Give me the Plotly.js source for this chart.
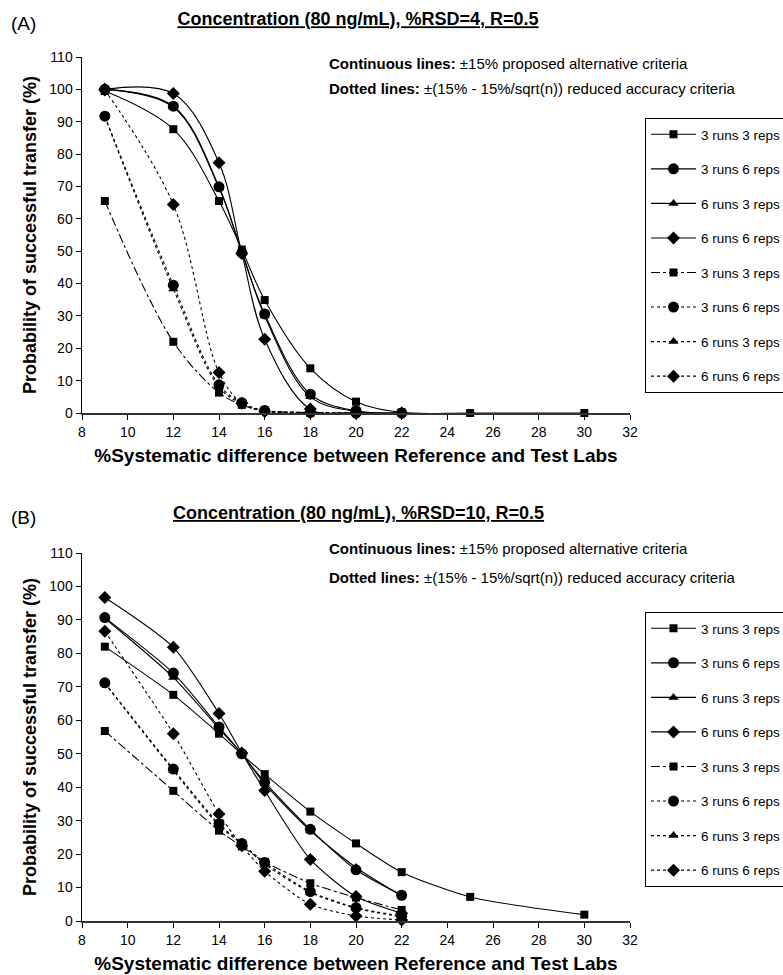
<!DOCTYPE html>
<html>
<head>
<meta charset="utf-8">
<script src="https://cdn.plot.ly/plotly-3.0.1.min.js"></script>
<style>html,body{margin:0;padding:0;background:#fff;}#chart{width:783px;height:975px;}</style>
</head>
<body>
<div id="chart"></div>
<script>
// ---------- Data ----------
const seriesNames = ['3 runs 3 reps', '3 runs 6 reps', '6 runs 3 reps', '6 runs 6 reps'];
const xTicks = [8, 10, 12, 14, 16, 18, 20, 22, 24, 26, 28, 30, 32];

// Panel A: %RSD=4
const xA_long = [9, 12, 14, 15, 16, 18, 20, 22, 25, 30];
const xA = [9, 12, 14, 15, 16, 18, 20, 22];
const xA_dot = [9, 12, 14, 15, 16, 18, 20];
const A_solid_3r3r = [99.5, 87.7, 65.5, 50.5, 34.9, 13.8, 3.5, 0.2, 0, 0];
const A_solid_3r6r = [100, 94.8, 69.9, 49.5, 30.6, 5.8, 0.7, 0];
const A_solid_6r3r = [100, 94.5, 69.5, 50, 30, 5, 0.5, 0];
const A_solid_6r6r = [100, 98.7, 77.3, 49.3, 22.8, 1.2, 0.1, 0];
const A_dot_3r3r = [65.5, 22.0, 6.3, 2.5, 0.8, 0.1, 0];
const A_dot_3r6r = [91.7, 39.5, 8.7, 3.2, 0.8, 0.2, 0];
const A_dot_6r3r = [91.5, 38.3, 8.0, 2.8, 0.6, 0.1, 0];
const A_dot_6r6r = [99.8, 64.4, 12.5, 3.0, 0.5, 0.1, 0];

// Panel B: %RSD=10
const xB_long = [9, 12, 14, 15, 16, 18, 20, 22, 25, 30];
const xB = [9, 12, 14, 15, 16, 18, 20, 22];
const B_solid_3r3r = [82.0, 67.6, 56.0, 49.8, 43.9, 32.7, 23.2, 14.6, 7.2, 1.9];
const B_solid_3r6r = [90.7, 74.1, 58.0, 50.0, 41.5, 27.4, 15.3, 7.7];
const B_solid_6r3r = [90.5, 72.8, 57.5, 50.0, 41.0, 27.0, 16.0, 7.5];
const B_solid_6r6r = [96.7, 81.8, 62.0, 50.2, 39.0, 18.4, 7.3, 2.3];
const B_dot_3r3r = [56.8, 38.9, 27.0, 22.3, 17.7, 11.3, 7.0, 3.3];
const B_dot_3r6r = [71.2, 45.4, 29.0, 23.2, 17.5, 8.8, 4.0, 1.5];
const B_dot_6r3r = [71.0, 45.0, 28.5, 23.0, 17.0, 8.5, 3.8, 1.2];
const B_dot_6r6r = [86.6, 56.0, 32.0, 22.5, 14.9, 5.0, 1.5, 0.3];

const titleA = 'Concentration (80 ng/mL), %RSD=4, R=0.5';
const titleB = 'Concentration (80 ng/mL), %RSD=10, R=0.5';
const xTitle = '%Systematic difference between Reference and Test Labs';
const yTitle = 'Probability of successful transfer (%)';
const noteSolid = '<b>Continuous lines:</b> \u00b115% proposed alternative criteria';
const noteDot = '<b>Dotted lines:</b> \u00b1(15% - 15%/sqrt(n)) reduced accuracy criteria';

// ---------- Styles ----------
const FONT = 'Liberation Sans, Arial, sans-serif';
const symbols = ['square', 'circle', 'triangle-up', 'diamond'];
const msizes = [8, 11, 9, 10];

function mk(x, y, idx, dotted, dashOverride, xa, ya, leg, smooth) {
  return {
    type: 'scatter', mode: 'lines+markers', x: x, y: y,
    name: seriesNames[idx],
    xaxis: xa, yaxis: ya, legend: leg,
    legendgroup: leg + (dotted ? 'd' : 's') + idx,
    line: {color: '#000', width: 1.1, dash: dashOverride || (dotted ? 'dot' : 'solid'), shape: 'spline', smoothing: smooth},
    marker: {symbol: symbols[idx], size: msizes[idx], color: '#000'},
    cliponaxis: false
  };
}

const traces = [
  mk(xA_long, A_solid_3r3r, 0, false, null, 'x', 'y', 'legend', 1),
  mk(xA, A_solid_3r6r, 1, false, null, 'x', 'y', 'legend', 1),
  mk(xA, A_solid_6r3r, 2, false, null, 'x', 'y', 'legend', 1),
  mk(xA, A_solid_6r6r, 3, false, null, 'x', 'y', 'legend', 1),
  mk(xA_dot, A_dot_3r3r, 0, true, 'dashdot', 'x', 'y', 'legend', 1),
  mk(xA_dot, A_dot_3r6r, 1, true, null, 'x', 'y', 'legend', 1),
  mk(xA_dot, A_dot_6r3r, 2, true, null, 'x', 'y', 'legend', 1),
  mk(xA_dot, A_dot_6r6r, 3, true, null, 'x', 'y', 'legend', 1),
  mk(xB_long, B_solid_3r3r, 0, false, null, 'x2', 'y2', 'legend2', 0.7),
  mk(xB, B_solid_3r6r, 1, false, null, 'x2', 'y2', 'legend2', 0.7),
  mk(xB, B_solid_6r3r, 2, false, null, 'x2', 'y2', 'legend2', 0.7),
  mk(xB, B_solid_6r6r, 3, false, null, 'x2', 'y2', 'legend2', 0.7),
  mk(xB, B_dot_3r3r, 0, true, 'dashdot', 'x2', 'y2', 'legend2', 0.7),
  mk(xB, B_dot_3r6r, 1, true, null, 'x2', 'y2', 'legend2', 0.7),
  mk(xB, B_dot_6r3r, 2, true, null, 'x2', 'y2', 'legend2', 0.7),
  mk(xB, B_dot_6r6r, 3, true, null, 'x2', 'y2', 'legend2', 0.7)
];

const W = 783, H = 975;
const px = v => v / W;
const py = v => 1 - v / H;

function xaxisDef(anchor) {
  return {
    domain: [px(82), px(630)], anchor: anchor,
    range: [8, 32], tickvals: xTicks, ticktext: xTicks.map(String),
    ticks: 'outside', ticklen: 5, tickwidth: 1, tickcolor: '#000',
    showline: true, linecolor: '#333', linewidth: 2,
    showgrid: false, zeroline: false,
    tickfont: {family: FONT, size: 14, color: '#000'},
    title: {text: '<b>' + xTitle + '</b>', font: {family: FONT, size: 19, color: '#000'}, standoff: 10},
    automargin: false
  };
}
function yaxisDef(anchor, top, bottom) {
  return {
    domain: [py(bottom), py(top)], anchor: anchor,
    range: [0, 110], dtick: 10, tick0: 0,
    ticks: 'outside', ticklen: 5, tickwidth: 1, tickcolor: '#000',
    showline: true, linecolor: '#000', linewidth: 1.5,
    showgrid: false, zeroline: false,
    tickfont: {family: FONT, size: 14, color: '#000'},
    title: {text: '<b>' + yTitle + '</b>', font: {family: FONT, size: 18, color: '#000'}, standoff: 8},
    automargin: false
  };
}

const legendBase = {
  x: px(645), xanchor: 'left', yanchor: 'top',
  bgcolor: '#fff', bordercolor: '#000', borderwidth: 1,
  font: {family: FONT, size: 13.5, color: '#000'},
  tracegroupgap: 14, itemwidth: 45, traceorder: 'grouped'
};

const layout = {
  width: W, height: H,
  margin: {l: 0, r: 0, t: 0, b: 0, autoexpand: false},
  paper_bgcolor: '#fff', plot_bgcolor: '#fff',
  showlegend: true,
  title: {text: '<b><u>' + titleA + '</u></b>', x: px(358), xanchor: 'center', y: py(19), yanchor: 'middle',
          font: {family: FONT, size: 18, color: '#000'}},
  xaxis: xaxisDef('y'),
  yaxis: yaxisDef('x', 57, 413),
  xaxis2: xaxisDef('y2'),
  yaxis2: yaxisDef('x2', 553, 921),
  legend: Object.assign({}, legendBase, {y: py(118)}),
  legend2: Object.assign({}, legendBase, {y: py(612)}),
  annotations: [
    {xref: 'paper', yref: 'paper', x: px(9), y: py(23), xanchor: 'left', yanchor: 'middle', showarrow: false,
     text: '(A)', font: {family: FONT, size: 19, color: '#000'}},
    {xref: 'paper', yref: 'paper', x: px(9), y: py(517), xanchor: 'left', yanchor: 'middle', showarrow: false,
     text: '(B)', font: {family: FONT, size: 19, color: '#000'}},
    {xref: 'paper', yref: 'paper', x: px(358), y: py(513), xanchor: 'center', yanchor: 'middle', showarrow: false,
     text: '<b><u>' + titleB + '</u></b>', font: {family: FONT, size: 18, color: '#000'}},
    {xref: 'paper', yref: 'paper', x: px(327), y: py(63), xanchor: 'left', yanchor: 'middle', showarrow: false,
     text: noteSolid, font: {family: FONT, size: 15, color: '#000'}},
    {xref: 'paper', yref: 'paper', x: px(327), y: py(89), xanchor: 'left', yanchor: 'middle', showarrow: false,
     text: noteDot, font: {family: FONT, size: 15, color: '#000'}},
    {xref: 'paper', yref: 'paper', x: px(327), y: py(548), xanchor: 'left', yanchor: 'middle', showarrow: false,
     text: noteSolid, font: {family: FONT, size: 15, color: '#000'}},
    {xref: 'paper', yref: 'paper', x: px(327), y: py(577), xanchor: 'left', yanchor: 'middle', showarrow: false,
     text: noteDot, font: {family: FONT, size: 15, color: '#000'}}
  ]
};

Plotly.newPlot('chart', traces, layout, {staticPlot: true, displayModeBar: false});
</script>
</body>
</html>
